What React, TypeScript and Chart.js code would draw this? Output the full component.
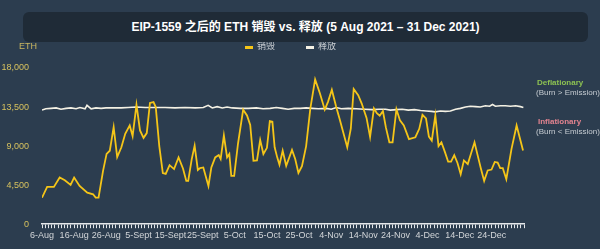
import React, { useEffect, useRef } from "react";
import { Chart, registerables } from "chart.js";

Chart.register(...registerables);

const TITLE = "EIP-1559 之后的 ETH 销毁 vs. 释放 (5 Aug 2021 – 31 Dec 2021)";
const SERIES_NAMES = ["销毁", "释放"];
const X_TICK_LABELS = [
  "6-Aug", "16-Aug", "26-Aug", "5-Sept", "15-Sept", "25-Sept", "5-Oct", "15-Oct",
  "25-Oct", "4-Nov", "14-Nov", "24-Nov", "4-Dec", "14-Dec", "24-Dec",
];
const Y_TICKS = [0, 4500, 9000, 13500, 18000];

// Burn (销毁): day offset from 6-Aug, value in ETH
const burnDays = [
  0, 1.6, 3.7, 5.5, 7.1, 8.9, 10, 11.7, 14.1, 15.9, 16.7, 17.6, 19, 20.1, 21.1, 22.3,
  23.4, 24.7, 25.9, 27.3, 28.2, 29.4, 30.5, 31.6, 32.6, 33.6, 34.7, 35.4, 36.5, 37.6,
  38.5, 39.7, 41.1, 42.5, 43.9, 44.9, 45.5, 46.6, 47.5, 48.5, 49.2, 50.2, 51.8, 52.7,
  53.9, 55, 55.6, 56.6, 57.6, 58.3, 58.9, 59.8, 61, 62.6, 63.8, 64.8, 65.8, 66.9, 67.9,
  68.9, 70, 70.9, 71.7, 72.4, 73.2, 73.9, 74.9, 76, 77.8, 78.8, 79.8, 80.9, 82.2, 83.5,
  85, 86.5, 88, 89, 90.2, 91.5, 92.6, 93.8, 95, 96.1, 97, 98.4, 99.5, 101, 102.1, 103.3,
  104.2, 105.1, 106.1, 107, 108.1, 109.1, 110.3, 111.4, 112.6, 114.2, 116.2, 117.4,
  118.4, 119.5, 120.4, 121.3, 122.4, 123.4, 124.3, 125.4, 126.4, 127.3, 128.3, 129.3,
  130.3, 131.3, 132.5, 134.6, 135.6, 136.5, 137.6, 138.7, 139.9, 140.9, 141.8, 142.6,
  143.4, 144.5, 146.1, 147.7, 149.7,
];
const burnValues = [
  3050, 4300, 4300, 5380, 5070, 4530, 5380, 4410, 3640, 3450, 3060, 3060, 6150, 8100, 8470, 11180,
  7740, 8860, 10410, 11380, 10150, 13760, 10800, 9950, 10500, 13970, 14080, 13500, 9000, 5900,
  5800, 6800, 6350, 7700, 6400, 4990, 4990, 7500, 9050, 6250, 6460, 6540, 4410, 6540,
  7700, 7970, 7510, 10220, 7700, 8090, 5570, 5570, 9300, 13200, 12540, 11450, 7310, 7350, 9700,
  8090, 8800, 11880, 11800, 8860, 7700, 6850, 8470, 6730, 8550, 7510, 5900, 6680, 9000, 13320,
  16680, 15060, 13200, 14100, 15500, 13600, 12150, 10500, 8860, 11000, 15580, 14860, 13900, 12250, 10060, 13350,
  12800, 12500, 13040, 11180, 9440, 9440, 13250, 11960, 11380, 9800, 10020, 10990,
  12600, 12200, 10100, 9640, 12540, 9000, 9440, 8300, 7200, 7200, 7950, 7060,
  5770, 7350, 6930, 9440, 7900, 6540, 4990, 6200, 6300, 7170, 7100, 6460,
  6460, 5190, 8660, 11380, 8500,
];

// Emission (释放)
const emitDays = [
  0, 1.2, 2.8, 4.4, 5.9, 7.5, 9.0, 10.6, 11.8, 13.4, 14.0, 15.3, 16.8, 18.4, 19.9, 22.1,
  24.6, 26.8, 29.3, 32.1, 35.2, 38.3, 41.4, 44.5, 47.7, 50.2, 51.7, 53.0, 54.5, 56.1,
  57.6, 59.2, 61.7, 64.2, 66.7, 68.8, 71.0, 72.9, 74.8, 76.6, 78.5, 80.4, 82.2, 84.1,
  86.0, 88.5, 90.0, 91.6, 93.1, 95.3, 97.8, 100.3, 102.8, 105.0, 106.9, 108.4, 110.3,
  112.1, 114.0, 115.9, 117.8, 119.6, 121.2, 122.4, 124.0, 125.5, 127.1, 128.7, 130.2,
  131.8, 133.3, 134.9, 136.4, 138.0, 139.3, 140.2, 141.1, 142.7, 144.2, 145.8, 147.4,
  148.9, 149.8,
];
const emitValues = [
  13150, 13300, 13350, 13400, 13250, 13350, 13400, 13300, 13450, 13300, 13700, 13300, 13400, 13350, 13400, 13400,
  13400, 13450, 13500, 13450, 13450, 13450, 13400, 13450, 13400, 13450, 13700, 13400, 13550, 13400,
  13500, 13400, 13350, 13350, 13400, 13300, 13350, 13450, 13350, 13250, 13350, 13350, 13400, 13350,
  13300, 13350, 13250, 13450, 13300, 13350, 13300, 13250, 13200, 13250, 13250, 13150, 13200,
  13250, 13150, 13200, 13100, 13050, 13000, 12950, 13050, 13000, 13050, 13250, 13350,
  13500, 13600, 13550, 13500, 13650, 13600, 13800, 13600, 13650, 13650, 13600, 13650,
  13550, 13450,
];

const BG = "#2c3d4f";
const YELLOW = "#f5c518";
const WHITE = "#f4f1e4";
const FONT = '"Liberation Sans", Arial, "Noto Sans CJK SC", sans-serif';

const overlayPlugin = {
  id: "overlay",
  afterDraw(chart: any) {
    const ctx = chart.ctx;
    ctx.save();
    ctx.textBaseline = "middle";
    // ETH unit label
    ctx.font = `9px ${FONT}`;
    ctx.fillStyle = "#c9b660";
    ctx.textAlign = "left";
    ctx.fillText("ETH", 19, 47);
    // legend
    const items = [
      { x: 245, color: YELLOW, label: SERIES_NAMES[0] },
      { x: 306, color: WHITE, label: SERIES_NAMES[1] },
    ];
    items.forEach((it) => {
      ctx.fillStyle = it.color;
      ctx.fillRect(it.x, 46, 8, 3);
      ctx.fillStyle = "#c8ccd0";
      ctx.font = `9px ${FONT}`;
      ctx.fillText(it.label, it.x + 12, 47);
    });
    // annotations
    ctx.font = `bold 8px ${FONT}`;
    ctx.fillStyle = "#8cc152";
    ctx.fillText("Deflationary", 537, 83);
    ctx.fillStyle = "#e2838f";
    ctx.fillText("Inflationary", 538, 122);
    ctx.font = `8px ${FONT}`;
    ctx.fillStyle = "#c5cbd1";
    ctx.fillText("(Burn > Emission)", 536, 93);
    ctx.fillText("(Burn < Emission)", 536, 132);
    ctx.restore();
  },
};

export default function App() {
  const ref = useRef<HTMLCanvasElement>(null);
  useEffect(() => {
    if (!ref.current) return;
    const chart = new Chart(ref.current, {
      type: "line",
      data: {
        datasets: [
          {
            label: SERIES_NAMES[0],
            data: burnDays.map((d, i) => ({ x: d, y: burnValues[i] })),
            borderColor: YELLOW,
            backgroundColor: YELLOW,
            borderWidth: 1.8,
            pointRadius: 0,
            tension: 0,
          },
          {
            label: SERIES_NAMES[1],
            data: emitDays.map((d, i) => ({ x: d, y: emitValues[i] })),
            borderColor: WHITE,
            backgroundColor: WHITE,
            borderWidth: 1.6,
            pointRadius: 0,
            tension: 0,
          },
        ],
      },
      options: {
        animation: false,
        responsive: false,
        maintainAspectRatio: false,
        layout: { padding: { top: 68, right: 76, bottom: 6, left: 0 } },
        plugins: {
          legend: { display: false },
          title: { display: false },
          tooltip: { enabled: false },
        },
        scales: {
          x: {
            type: "linear",
            min: 0,
            max: 150,
            afterBuildTicks: (scale: any) => {
              const t = [];
              for (let i = 0; i <= 150; i++) t.push({ value: i });
              scale.ticks = t;
            },
            ticks: {
              autoSkip: false,
              maxRotation: 0,
              padding: 2,
              color: "#d3d6d9",
              font: { size: 9, family: FONT },
              callback: (v: any) => {
                const n = Number(v);
                return n % 10 === 0 && n / 10 < X_TICK_LABELS.length ? X_TICK_LABELS[n / 10] : "";
              },
            },
            grid: {
              display: true,
              drawOnChartArea: false,
              drawTicks: true,
              tickLength: 4,
              color: "#e4e7ea",
              lineWidth: 1,
            },
            border: { display: true, color: "#e4e7ea", width: 1.5 },
          },
          y: {
            min: 0,
            max: 18000,
            afterBuildTicks: (scale: any) => {
              scale.ticks = Y_TICKS.map((v) => ({ value: v }));
            },
            afterFit: (scale: any) => {
              scale.width = 42;
            },
            ticks: {
              padding: 13,
              color: "#d6c15e",
              font: { size: 9, family: FONT },
              callback: (v: any) => Number(v).toLocaleString("en-US"),
            },
            grid: { display: false, drawTicks: false },
            border: { display: false },
          },
        },
      },
      plugins: [overlayPlugin],
    });
    return () => chart.destroy();
  }, []);

  return (
    <div
      style={{
        position: "fixed",
        left: 0,
        top: 0,
        width: 600,
        height: 249,
        background: BG,
        overflow: "hidden",
      }}
    >
      <canvas ref={ref} width={600} height={249} style={{ position: "absolute", left: 0, top: 0 }} />
      <div
        style={{
          position: "absolute",
          left: 23,
          top: 12,
          width: 565,
          height: 30,
          background: "#1f2b37",
          borderRadius: 6,
          color: "#ffffff",
          fontFamily: FONT,
          fontWeight: "bold",
          fontSize: 12,
          lineHeight: "30px",
          textAlign: "center",
          whiteSpace: "nowrap",
        }}
      >
        {TITLE}
      </div>
    </div>
  );
}
